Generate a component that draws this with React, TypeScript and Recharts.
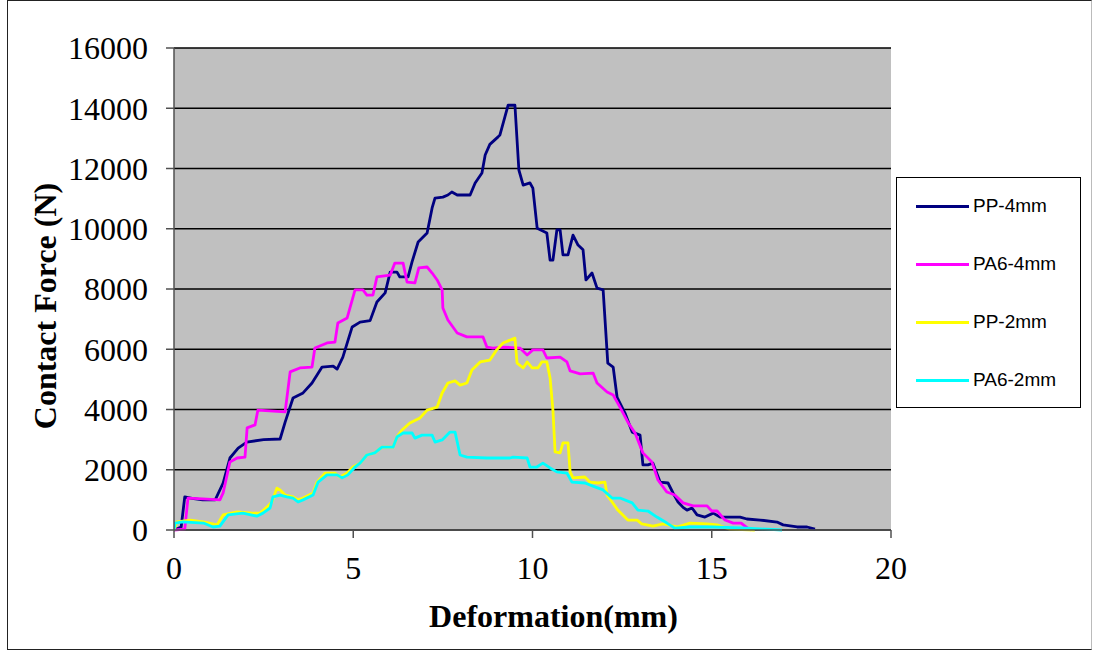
import {
	LineChart,
	Line,
	XAxis,
	YAxis,
	CartesianGrid,
	Label,
} from "recharts";

// [deformation (mm), contact force (N)]
const pp4mm: [number, number][] = [
	[0, 0], [0.2, 100], [0.3, 1100], [0.5, 1050], [0.8, 1000], [1.15, 1000],
	[1.37, 1560], [1.56, 2390], [1.79, 2720], [2.03, 2920], [2.5, 3000], [2.96, 3020],
	[3.1, 3580], [3.32, 4380], [3.6, 4550], [3.85, 4880], [4.13, 5410], [4.44, 5440],
	[4.55, 5340], [4.71, 5740], [4.97, 6740], [5.19, 6900], [5.47, 6950], [5.66, 7570],
	[5.89, 7870], [6.03, 8560], [6.22, 8560], [6.3, 8400], [6.53, 8400], [6.64, 8900],
	[6.81, 9560], [7.06, 9860], [7.2, 10690], [7.28, 11020], [7.5, 11050], [7.64, 11120],
	[7.75, 11220], [7.9, 11120], [8.26, 11120], [8.4, 11520], [8.59, 11850], [8.68, 12450],
	[8.81, 12800], [9.04, 13050], [9.09, 13110], [9.23, 13710], [9.32, 14100], [9.51, 14100],
	[9.62, 11950], [9.74, 11450], [9.93, 11520], [10.01, 11350], [10.13, 10020], [10.4, 9860],
	[10.49, 8960], [10.57, 8960], [10.68, 9960], [10.77, 9960], [10.85, 9130], [10.99, 9130],
	[11.13, 9790], [11.27, 9460], [11.41, 9300], [11.49, 8300], [11.66, 8530], [11.8, 8030],
	[11.97, 7970], [12.1, 5540], [12.25, 5410], [12.36, 4400], [12.58, 3880], [12.78, 3250],
	[13.0, 3150], [13.08, 2160], [13.22, 2160], [13.36, 2220], [13.56, 1590], [13.78, 1560],
	[13.92, 1230], [14.06, 930], [14.2, 750], [14.31, 660], [14.45, 730], [14.59, 500],
	[14.81, 430], [15.04, 560], [15.23, 430], [15.79, 430], [15.98, 365], [16.35, 330],
	[16.82, 265], [16.99, 170], [17.38, 100], [17.66, 100], [17.88, 30],
];

const pa64mm: [number, number][] = [
	[0, 0], [0.3, 30], [0.39, 1060], [0.8, 1030], [1.28, 1000], [1.37, 1230],
	[1.56, 2260], [1.76, 2390], [1.98, 2420], [2.04, 3390], [2.26, 3490], [2.34, 3980],
	[3.1, 3920], [3.24, 5250], [3.51, 5380], [3.85, 5410], [3.93, 6040], [4.27, 6210],
	[4.49, 6240], [4.57, 6870], [4.83, 7040], [5.05, 7970], [5.27, 7970], [5.38, 7800],
	[5.55, 7800], [5.66, 8400], [6.03, 8460], [6.16, 8860], [6.39, 8860], [6.5, 8230],
	[6.72, 8200], [6.83, 8700], [7.06, 8730], [7.2, 8530], [7.34, 8300], [7.48, 7970],
	[7.5, 7370], [7.64, 6970], [7.9, 6540], [8.17, 6410], [8.62, 6410], [8.73, 6070],
	[8.9, 6040], [9.18, 6070], [9.65, 6040], [9.85, 5810], [10.01, 5980], [10.29, 5980],
	[10.4, 5710], [10.77, 5740], [10.96, 5580], [11.05, 5280], [11.33, 5180], [11.69, 5210],
	[11.8, 4880], [12.08, 4580], [12.25, 4480], [12.44, 4080], [12.66, 3580], [12.86, 3220],
	[13.08, 2560], [13.33, 2260], [13.5, 1660], [13.75, 1260], [13.97, 1160], [14.2, 900],
	[14.48, 800], [14.87, 800], [15.0, 630], [15.15, 630], [15.37, 330], [15.6, 230],
	[15.82, 230], [16.0, 60], [16.1, 0],
];

const pp2mm: [number, number][] = [
	[0, 0], [0.08, 270], [0.45, 330], [0.82, 270], [1.2, 170], [1.37, 500],
	[1.76, 600], [2.18, 560], [2.4, 560], [2.59, 760], [2.73, 930], [2.87, 1390],
	[2.96, 1330], [3.1, 1160], [3.32, 1100], [3.46, 1000], [3.6, 1060], [3.88, 1230],
	[3.99, 1590], [4.21, 1890], [4.49, 1890], [4.63, 1760], [4.83, 1890], [4.99, 2090],
	[5.19, 2220], [5.38, 2490], [5.6, 2560], [5.8, 2750], [6.11, 2750], [6.22, 3090],
	[6.36, 3320], [6.58, 3550], [6.86, 3720], [7.06, 3980], [7.34, 4080], [7.48, 4550],
	[7.64, 4880], [7.84, 4950], [7.98, 4810], [8.17, 4880], [8.31, 5310], [8.54, 5580],
	[8.81, 5640], [9.0, 5980], [9.18, 6210], [9.51, 6370], [9.57, 5540], [9.74, 5380],
	[9.85, 5580], [9.99, 5380], [10.15, 5380], [10.26, 5580], [10.4, 5580], [10.49, 5050],
	[10.57, 3980], [10.63, 2590], [10.77, 2560], [10.85, 2890], [10.99, 2890], [11.05, 1930],
	[11.13, 1730], [11.46, 1760], [11.6, 1590], [11.83, 1560], [12.02, 1590], [12.08, 1160],
	[12.22, 930], [12.38, 660], [12.66, 330], [12.92, 330], [13.05, 200], [13.36, 130],
	[13.64, 200], [14.03, 100], [14.39, 230], [14.87, 200], [15.15, 170], [15.5, 30],
	[16.2, 0],
];

const pa62mm: [number, number][] = [
	[0, 0], [0.03, 230], [0.25, 270], [0.82, 230], [1.09, 100], [1.28, 130],
	[1.51, 500], [1.92, 560], [2.31, 460], [2.48, 560], [2.68, 730], [2.76, 1100],
	[2.96, 1160], [3.15, 1100], [3.32, 1060], [3.46, 930], [3.6, 1000], [3.88, 1160],
	[4.02, 1590], [4.27, 1830], [4.55, 1830], [4.69, 1730], [4.85, 1830], [5.05, 2090],
	[5.19, 2220], [5.38, 2490], [5.6, 2560], [5.8, 2750], [6.11, 2750], [6.22, 3090],
	[6.39, 3220], [6.64, 3220], [6.72, 3050], [6.92, 3150], [7.2, 3150], [7.28, 2920],
	[7.48, 2990], [7.7, 3250], [7.84, 3250], [7.98, 2490], [8.17, 2420], [8.73, 2390],
	[9.37, 2390], [9.46, 2420], [9.85, 2390], [9.93, 2090], [10.12, 2090], [10.29, 2220],
	[10.49, 2060], [10.68, 1930], [10.96, 1890], [11.1, 1590], [11.46, 1560], [11.74, 1430],
	[11.97, 1330], [12.22, 1060], [12.44, 1060], [12.78, 900], [12.94, 660], [13.22, 630],
	[13.47, 430], [13.75, 230], [13.97, 60], [14.39, 100], [15.04, 100], [15.98, 60],
	[16.96, 0],
];

const xTicks = [0, 5, 10, 15, 20];
const yTicks = [0, 2000, 4000, 6000, 8000, 10000, 12000, 14000, 16000];

const series = [
	{ name: "PP-4mm", points: pp4mm, color: "#000080" },
	{ name: "PA6-4mm", points: pa64mm, color: "#FF00FF" },
	{ name: "PP-2mm", points: pp2mm, color: "#FFFF00" },
	{ name: "PA6-2mm", points: pa62mm, color: "#00FFFF" },
];

const serif = "'Liberation Serif', 'Times New Roman', serif";
const sans = "'Liberation Sans', Arial, sans-serif";

function LegendBox() {
	return (
		<div
			style={{
				position: "absolute",
				left: 896,
				top: 177,
				width: 185,
				height: 231,
				boxSizing: "border-box",
				border: "1px solid #000",
				background: "#fff",
			}}
		>
			{series.map((s, i) => (
				<div
					key={s.name}
					style={{
						position: "absolute",
						left: 19,
						top: 28 + i * 58 - 12,
						height: 24,
						display: "flex",
						alignItems: "center",
					}}
				>
					<div
						style={{
							width: 53,
							height: 3,
							background: s.color,
							marginRight: 4,
						}}
					/>
					<span style={{ fontFamily: sans, fontSize: 19, color: "#000" }}>
						{s.name}
					</span>
				</div>
			))}
		</div>
	);
}

export default function App() {
	return (
		<div
			style={{
				position: "absolute",
				left: 0,
				top: 0,
				width: 1093,
				height: 652,
				background: "#fff",
			}}
		>
			<div
				style={{
					position: "absolute",
					left: 7,
					top: 0,
					width: 1085,
					height: 650,
					boxSizing: "border-box",
					border: "1px solid #222",
					borderRightColor: "#bbb",
				}}
			/>
			<LineChart
				width={1093}
				height={652}
				margin={{ top: 48, right: 202, bottom: 82, left: 64 }}
				style={{ position: "absolute", left: 0, top: 0 }}
			>
				<CartesianGrid
					fill="#C0C0C0"
					vertical={false}
					stroke="#000"
					strokeWidth={1.3}
				/>
				<XAxis
					type="number"
					dataKey="x"
					domain={[0, 20]}
					ticks={xTicks}
					allowDataOverflow
					height={40}
					tickSize={8}
					tickMargin={18}
					stroke="#505050"
					strokeWidth={1.5}
					tick={{ fill: "#000", fontSize: 32, fontFamily: serif }}
				>
					<Label
						value="Deformation(mm)"
						position="bottom"
						offset={34}
						dx={21}
						style={{
							fontFamily: serif,
							fontSize: 32,
							fontWeight: "bold",
							fill: "#000",
						}}
					/>
				</XAxis>
				<YAxis
					type="number"
					domain={[0, 16000]}
					ticks={yTicks}
					width={110}
					tickSize={8}
					tickMargin={18}
					stroke="#505050"
					strokeWidth={1.5}
					tick={{ fill: "#000", fontSize: 32, fontFamily: serif }}
				>
					<Label
						value="Contact Force (N)"
						angle={-90}
						position="center"
						dx={-74}
						dy={17}
						style={{
							fontFamily: serif,
							fontSize: 32,
							fontWeight: "bold",
							fill: "#000",
						}}
					/>
				</YAxis>
				<YAxis
					yAxisId="right"
					orientation="right"
					width={0}
					domain={[0, 16000]}
					tick={false}
					tickLine={false}
					stroke="#808080"
					strokeWidth={1.5}
				/>
				{series.map((s) => (
					<Line
						key={s.name}
						name={s.name}
						type="linear"
						data={s.points.map(([x, y]) => ({ x, y }))}
						dataKey="y"
						stroke={s.color}
						strokeWidth={2.8}
						strokeLinejoin="round"
						dot={false}
						activeDot={false}
						isAnimationActive={false}
					/>
				))}
			</LineChart>
			<LegendBox />
		</div>
	);
}
